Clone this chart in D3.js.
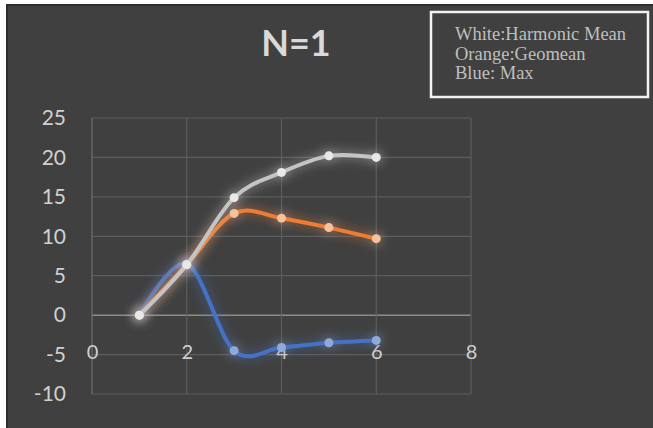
<!DOCTYPE html>
<html>
<head>
<meta charset="utf-8">
<script src="https://cdn.jsdelivr.net/npm/d3@7"></script>
<style>
  html, body { margin: 0; padding: 0; background: #ffffff; }
  svg { display: block; }
</style>
</head>
<body>
<div id="chart"></div>
<script>
// data
const xs = [1, 2, 3, 4, 5, 6]
const harmonicMean = [0, 6.4, 14.9, 18.1, 20.2, 20.0]
const geomean = [0, 6.4, 12.9, 12.3, 11.1, 9.7]
const maxVals = [0, 6.5, -4.5, -4.1, -3.5, -3.2]
const xTicks = [0, 2, 4, 6, 8]
const yTicks = [-10, -5, 0, 5, 10, 15, 20, 25]
const legendLines = ["White:Harmonic Mean", "Orange:Geomean", "Blue: Max"]

const W = 653, H = 428
const MARGIN = { TOP: 118, LEFT: 92, RIGHT: 182, BOTTOM: 34 }

const svg = d3.select("#chart").append("svg")
    .attr("width", W)
    .attr("height", H)

// glow filter
const defs = svg.append("defs")
const glow = defs.append("filter").attr("id", "glow")
    .attr("x", "-50%").attr("y", "-50%").attr("width", "200%").attr("height", "200%")
glow.append("feGaussianBlur").attr("in", "SourceGraphic").attr("stdDeviation", 6).attr("result", "blur")
glow.append("feComponentTransfer").attr("in", "blur").attr("result", "soft")
    .append("feFuncA").attr("type", "linear").attr("slope", 0.8)
const merge = glow.append("feMerge")
merge.append("feMergeNode").attr("in", "soft")
merge.append("feMergeNode").attr("in", "SourceGraphic")

// background with the thin frame on the left/top
svg.append("rect").attr("x", 0).attr("y", 0).attr("width", W).attr("height", H).attr("fill", "#ffffff")
svg.append("rect").attr("x", 6).attr("y", 4).attr("width", W - 6).attr("height", H - 4).attr("fill", "#2e2e2e")
svg.append("rect").attr("x", 8).attr("y", 6).attr("width", W - 8).attr("height", H - 6).attr("fill", "#404040")

const x = d3.scaleLinear().domain([0, 8]).range([MARGIN.LEFT, W - MARGIN.RIGHT])
const y = d3.scaleLinear().domain([-10, 25]).range([H - MARGIN.BOTTOM, MARGIN.TOP])

// gridlines
svg.append("g").selectAll("line").data(yTicks).enter().append("line")
    .attr("x1", x(0)).attr("x2", x(8))
    .attr("y1", d => y(d)).attr("y2", d => y(d))
    .attr("stroke", d => d === 0 ? "#8c8c8c" : "#5d5d5d")
    .attr("stroke-width", d => d === 0 ? 1.5 : 1.2)

svg.append("g").selectAll("line").data(xTicks).enter().append("line")
    .attr("x1", d => x(d)).attr("x2", d => x(d))
    .attr("y1", y(-10)).attr("y2", y(25))
    .attr("stroke", d => d === 0 ? "#707070" : "#5d5d5d")
    .attr("stroke-width", 1.2)

// y axis labels
const yAxis = d3.axisLeft(y).tickValues(yTicks).tickSize(0).tickPadding(0).tickFormat(d => String(d))
const gy = svg.append("g").attr("transform", "translate(66,0)").call(yAxis)
gy.select(".domain").remove()
gy.selectAll("text")
    .attr("fill", "#d0d0d0")
    .style("font-family", "Lato, 'Noto Sans', sans-serif")
    .style("font-size", "21px")

// x axis labels sit around y=-4.5
const xAxis = d3.axisBottom(x).tickValues(xTicks).tickSize(0).tickPadding(0).tickFormat(d => String(d))
const gx = svg.append("g").attr("transform", "translate(0," + (y(0) + 44) + ")").call(xAxis)
gx.select(".domain").remove()
gx.selectAll("text")
    .attr("dy", "0")
    .attr("fill", "#d0d0d0")
    .style("font-family", "Lato, 'Noto Sans', sans-serif")
    .style("font-size", "20px")

// series
const series = [
    { name: "Max", values: maxVals, color: "#4472c4", marker: "#8eaadb" },
    { name: "Geomean", values: geomean, color: "#ed7d31", marker: "#f7c29b" },
    { name: "Harmonic Mean", values: harmonicMean, color: "#c4c4c4", marker: "#e8e8e8" }
]

const line = d3.line()
    .x((d, i) => x(xs[i]))
    .y(d => y(d))
    .curve(d3.curveCatmullRom.alpha(0))

series.forEach(s => {
    const g = svg.append("g").attr("filter", "url(#glow)")
    g.append("path")
        .datum(s.values)
        .attr("d", line)
        .attr("fill", "none")
        .attr("stroke", s.color)
        .attr("stroke-width", 4)
        .attr("stroke-linecap", "round")
    g.selectAll("circle").data(s.values).enter().append("circle")
        .attr("cx", (d, i) => x(xs[i]))
        .attr("cy", d => y(d))
        .attr("r", 4.5)
        .attr("fill", s.marker)
})

// title
svg.append("text")
    .attr("x", 296)
    .attr("y", 56)
    .attr("text-anchor", "middle")
    .attr("fill", "#d9d9d9")
    .style("font-family", "Lato, 'Open Sans', sans-serif")
    .style("font-weight", "bold")
    .style("font-size", "36px")
    .text("N=1")

// legend box
svg.append("rect")
    .attr("x", 431).attr("y", 12)
    .attr("width", 217).attr("height", 85)
    .attr("fill", "none")
    .attr("stroke", "#f2f2f2")
    .attr("stroke-width", 2.5)

svg.append("g").selectAll("text").data(legendLines).enter().append("text")
    .attr("x", 455)
    .attr("y", (d, i) => 40 + i * 19.5)
    .attr("fill", "#bfbfbf")
    .style("font-family", "'Liberation Serif', 'DejaVu Serif', serif")
    .style("font-size", "18.5px")
    .text(d => d)
</script>
</body>
</html>
